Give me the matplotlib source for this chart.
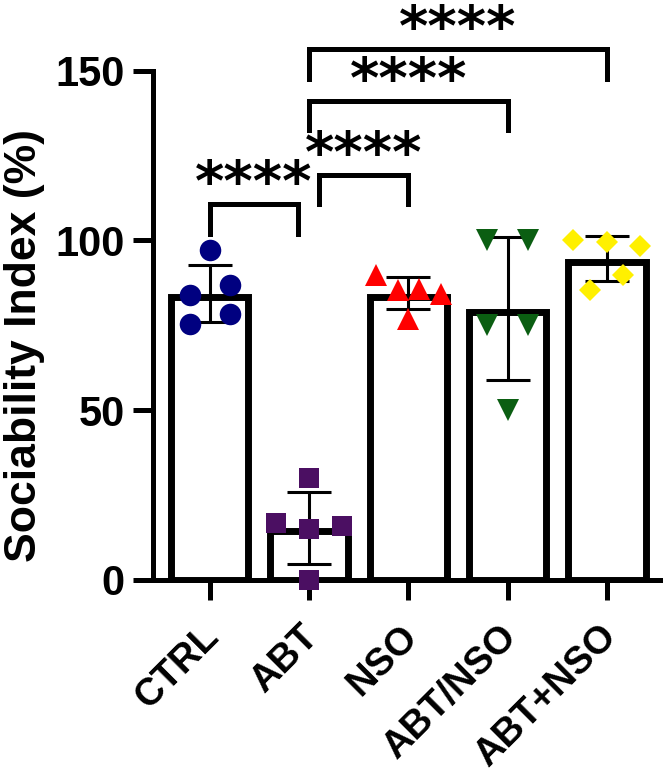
import numpy as np
import matplotlib
matplotlib.use("Agg")
import matplotlib.pyplot as plt
import matplotlib.transforms as mtransforms

# datos
groups = ["CTRL", "ABT", "NSO", "ABT/NSO", "ABT+NSO"]
ctrl = [97.3, 86.8, 83.8, 78.4, 75.5]
abt = [29.9, 16.9, 14.9, 15.9, 0.0]
nso = [89.7, 85.5, 85.8, 84.3, 77.0]
abt_nso = [100.0, 100.0, 75.0, 75.0, 50.0]
abt_plus_nso = [100.0, 99.5, 98.5, 89.9, 85.3]
means = [84.4, 15.3, 84.5, 80.0, 94.6]
sds = [8.4, 10.7, 4.6, 21.0, 6.6]

# comparaciones (grupo a, grupo b) y etiqueta
comparisons = [(0, 1), (1, 2), (1, 3), (1, 4)]
labels_sig = ["****", "****", "****", "****"]

points = [ctrl, abt, nso, abt_nso, abt_plus_nso]

# estilo
colors = ["#000080", "#4B0F62", "#FF0000", "#0B5E12", "#FFF000"]
markers = ["o", "s", "^", "v", "D"]
msizes = [15.5, 15.0, 15.5, 15.5, 10.8]
jitter = [
    [0, 0.21, -0.20, 0.21, -0.20],
    [0, -0.33, 0, 0.33, 0],
    [-0.33, -0.10, 0.11, 0.33, 0],
    [-0.21, 0.20, -0.21, 0.20, 0],
    [-0.34, 0, 0.33, 0.16, -0.17],
]
bracket_y = [110.7, 119.4, 141.2, 156.4]
bracket_x = [(0, 0.89), (1.1, 2.0), (1.0, 3.0), (1.0, 4.0)]
leg = 8.7

plt.rcParams["font.family"] = ["Liberation Sans", "DejaVu Sans"]
plt.rcParams["font.weight"] = "bold"

fig = plt.figure(figsize=(6.65, 7.79), dpi=100)
ax = fig.add_axes([0.2300, 0.2555, 0.7620, 0.6537])
ax.set_xlim(-0.57, 4.53)
ax.set_ylim(0, 150)

x = np.arange(len(groups))

# borde de la barra hacia adentro (como GraphPad)
bar_lw = 5.0
px_per_unit = ax.get_window_extent().height / 150.0
half_edge = (bar_lw / 72.0 * fig.dpi / 2) / px_per_unit
ax.bar(x, np.array(means) - half_edge, width=0.78, color="white",
       edgecolor="black", linewidth=bar_lw, zorder=2)
ax.errorbar(x, means, yerr=sds, fmt="none", ecolor="black",
            elinewidth=2.2, capsize=15.5, capthick=2.2, zorder=3)

for i, vals in enumerate(points):
    xs = x[i] + np.array(jitter[i])
    ax.plot(xs, vals, linestyle="none", marker=markers[i], color=colors[i],
            markersize=msizes[i], markeredgewidth=0, zorder=4, clip_on=False)

for (a, b), (x0, x1), y, lab in zip(comparisons, bracket_x, bracket_y, labels_sig):
    ax.plot([x0, x0, x1, x1], [y - leg, y, y, y - leg], color="black",
            linewidth=3.6, clip_on=False, solid_joinstyle="miter", zorder=5)
    ax.text((x0 + x1) / 2, y + 1.2, lab, ha="center", va="baseline",
            fontsize=40.5, fontweight="bold", family="DejaVu Sans",
            clip_on=False)

ax.set_yticks([0, 50, 100, 150])
ax.set_xticks(x)
ax.set_xticklabels(groups, rotation=45, ha="right", va="top",
                   rotation_mode="anchor", fontsize=27.5)

ax.set_ylabel("Sociability Index (%)", fontsize=32, fontweight="bold")
ax.yaxis.set_label_coords(-0.214, 0.46)

for side in ["top", "right"]:
    ax.spines[side].set_visible(False)
for side in ["left", "bottom"]:
    ax.spines[side].set_linewidth(3.6)
ax.tick_params(axis="both", length=14.4, width=3.6, pad=6)
ax.tick_params(axis="y", labelsize=30)

# desplazar etiquetas del eje x (despues de tick_params)
shift = mtransforms.ScaledTranslation(-0.09, -0.10, fig.dpi_scale_trans)
for lbl in ax.get_xticklabels():
    lbl.set_transform(lbl.get_transform() + shift)

fig.savefig("out.png", dpi=100)
